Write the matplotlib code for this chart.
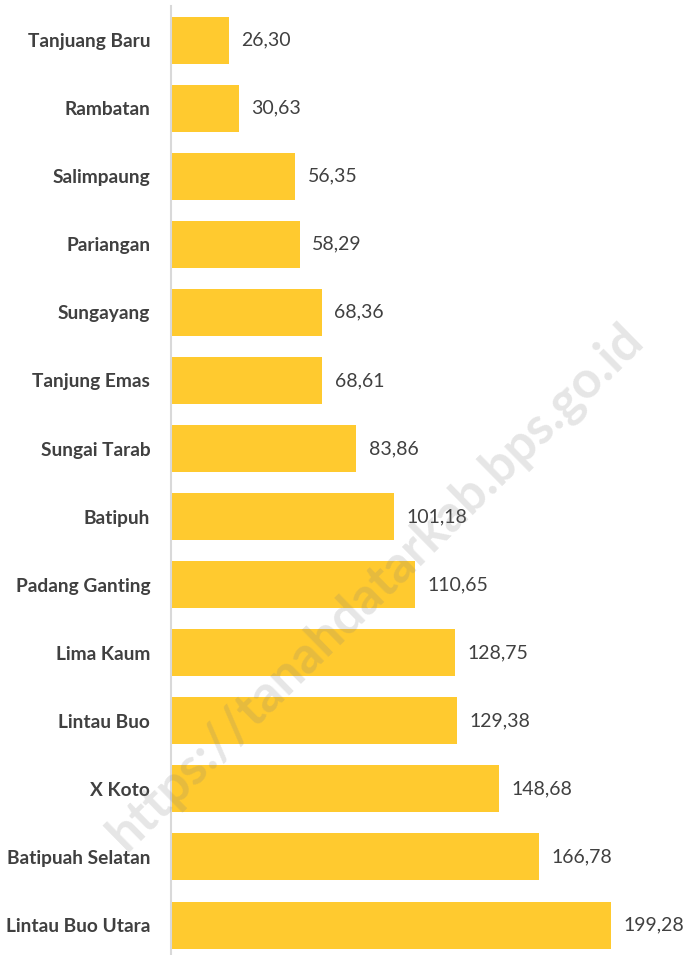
import matplotlib.pyplot as plt

kecamatan = ['Tanjuang Baru', 'Rambatan', 'Salimpaung', 'Pariangan', 'Sungayang',
             'Tanjung Emas', 'Sungai Tarab', 'Batipuh', 'Padang Ganting', 'Lima Kaum',
             'Lintau Buo', 'X Koto', 'Batipuah Selatan', 'Lintau Buo Utara']
luas = [26.30, 30.63, 56.35, 58.29, 68.36, 68.61, 83.86, 101.18, 110.65, 128.75,
        129.38, 148.68, 166.78, 199.28]

plt.rcParams['font.family'] = ['Lato', 'DejaVu Sans']

fig = plt.figure(figsize=(6.83, 9.55), dpi=100)
ax = fig.add_axes([171 / 683, 0, 512 / 683, 949 / 955])

y = list(range(len(kecamatan)))
ax.barh(y, luas, height=0.69, color='#FFCA2F')

for i, v in enumerate(luas):
    ax.annotate(f'{v:.2f}'.replace('.', ','), (v, i), xytext=(9, 0),
                textcoords='offset points', va='center', ha='left',
                fontsize=14, color='#404040')

ax.set_yticks(y)
ax.set_yticklabels(kecamatan, fontsize=13.8, fontweight='bold', color='#404040')
ax.tick_params(axis='y', length=0, pad=15)
ax.set_xticks([])
ax.set_xlim(0, 232)
ax.set_ylim(13.44, -0.5)

for s in ['top', 'right', 'bottom']:
    ax.spines[s].set_visible(False)
ax.spines['left'].set_color('#d9d9d9')
ax.spines['left'].set_linewidth(1.5)

fig.text(0.55, 0.385, 'https://tanahdatarkab.bps.go.id', rotation=44.5,
         ha='center', va='center', fontsize=37, fontweight='bold',
         color='#808080', alpha=0.2)

fig.savefig('out.png', dpi=100)
